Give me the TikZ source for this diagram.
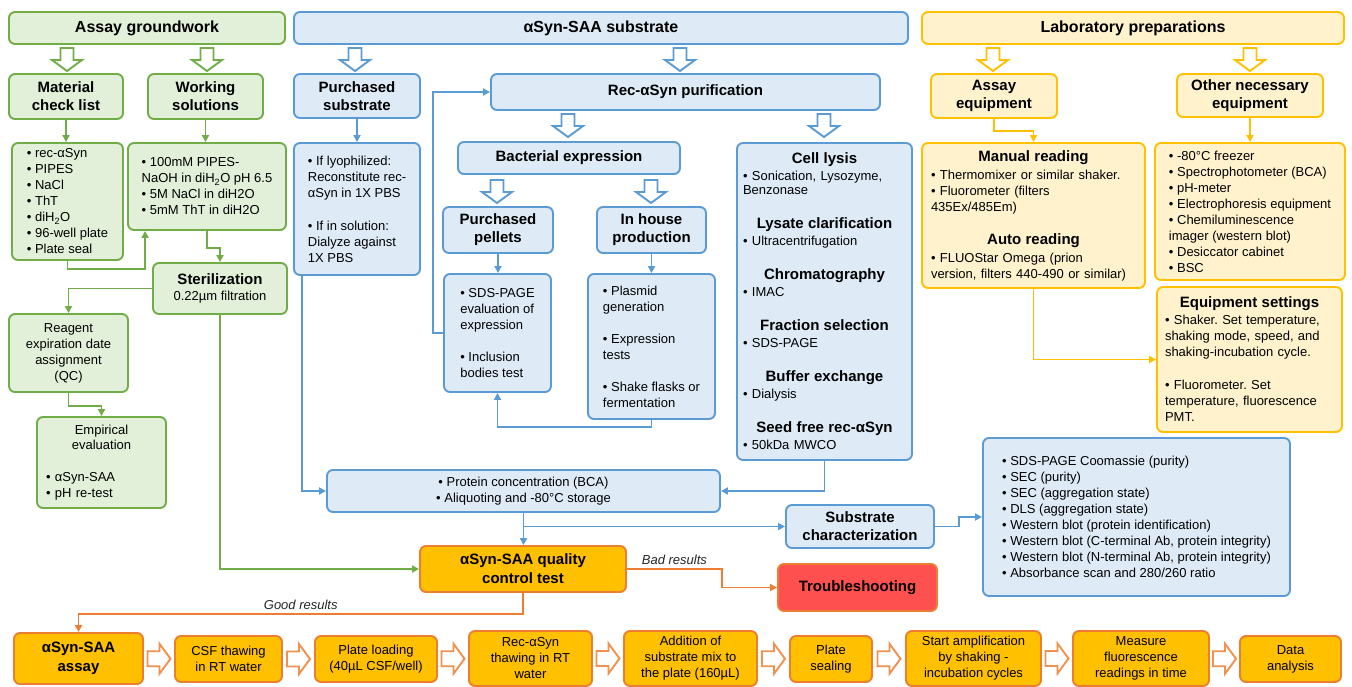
\documentclass[tikz,border=0pt]{standalone}
\usepackage{fontspec}
\setmainfont{Liberation Sans}
\usetikzlibrary{arrows.meta, calc, positioning}
\frenchspacing

\definecolor{GrLine}{HTML}{70AD47}
\definecolor{GrFill}{HTML}{E2F0D9}
\definecolor{BlLine}{HTML}{5B9BD5}
\definecolor{BlFill}{HTML}{DEEBF7}
\definecolor{YlLine}{HTML}{FFC000}
\definecolor{YlFill}{HTML}{FFF2CC}
\definecolor{OrLine}{HTML}{ED7D31}
\definecolor{OrFill}{HTML}{FFC000}
\definecolor{RdFill}{HTML}{FF5050}
\definecolor{PkFill}{HTML}{FBE5D6}
\definecolor{PkLine}{HTML}{F0914F}

\newcommand{\bodyf}{\fontsize{13}{16}\selectfont}
\newcommand{\headf}{\fontsize{15}{18}\selectfont\bfseries}
\newcommand{\topf}{\fontsize{16}{19}\selectfont\bfseries}
\newcommand{\centreline}[1]{\hfill{#1}\hfill\null}

\tikzset{
  basebox/.style={rectangle, rounded corners=6pt, line width=1.9pt,
    align=center, inner sep=4pt, font=\bodyf, text=black},
  grbox/.style={basebox, draw=GrLine, fill=GrFill},
  blbox/.style={basebox, draw=BlLine, fill=BlFill},
  ylbox/.style={basebox, draw=YlLine, fill=YlFill},
  orbox/.style={basebox, draw=OrLine, fill=OrFill},
  rdbox/.style={basebox, draw=OrLine, fill=RdFill},
  hd/.style={font=\headf},
  garr/.style={-{Triangle[length=7pt,width=7pt]}, line width=1.9pt, draw=GrLine},
  barr/.style={-{Triangle[length=7pt,width=7pt]}, line width=1.9pt, draw=BlLine},
  yarr/.style={-{Triangle[length=7pt,width=7pt]}, line width=1.9pt, draw=YlLine},
  oarr/.style={-{Triangle[length=7pt,width=7pt]}, line width=1.9pt, draw=OrLine},
  lbl/.style={font=\bodyf\itshape, text=black!85},
  downarr/.pic={\draw[line width=1.9pt, fill=white, pic actions]
    (-6.5,0) -- (6.5,0) -- (6.5,12) -- (15,12) -- (0,23) -- (-15,12) -- (-6.5,12) -- cycle;},
  rightarr/.pic={\draw[line width=1.9pt, fill=white, pic actions]
    (-11.5,-7.5) -- (0.5,-7.5) -- (0.5,-15) -- (11.5,0) -- (0.5,15) -- (0.5,7.5) -- (-11.5,7.5) -- cycle;},
}

\begin{document}
\begin{tikzpicture}[x=1pt, y=-1pt]
  \path[use as bounding box, fill=white] (0,0) rectangle (1352,686);

  % headers
  \node[grbox, font=\topf, minimum width=276pt, minimum height=32pt] (hdrG) at (147,28) {Assay groundwork};
  \node[blbox, font=\topf, minimum width=614pt, minimum height=32pt] (hdrB) at (601,28) {αSyn-SAA substrate};
  \node[ylbox, font=\topf, minimum width=422pt, minimum height=32pt] (hdrY) at (1133,28) {Laboratory preparations};

  \pic[draw=GrLine] at (67,48) {downarr};
  \pic[draw=GrLine] at (207,48) {downarr};
  \pic[draw=BlLine] at (355,48) {downarr};
  \pic[draw=BlLine] at (680,48) {downarr};
  \pic[draw=YlLine] at (993,48) {downarr};
  \pic[draw=YlLine] at (1250,48) {downarr};

  % assay groundwork
  \node[grbox, hd, minimum width=114pt, minimum height=45pt] (mat) at (66,96.5) {Material\\check list};
  \node[grbox, hd, minimum width=115pt, minimum height=45pt] (work) at (205.5,96.5) {Working\\solutions};
  \node[grbox, align=left, minimum width=111pt, minimum height=117pt] (matl) at (67.5,201.5)
    {• rec-αSyn\\• PIPES\\• NaCl\\• ThT\\• diH\textsubscript{2}O\\• 96-well plate\\• Plate seal};
  \node[grbox, align=left, minimum width=158pt, minimum height=87pt] (workl) at (207,186.5)
    {• 100mM PIPES-\\NaOH in diH\textsubscript{2}O pH 6.5\\• 5M NaCl in diH2O\\• 5mM ThT in diH2O};
  \node[grbox, minimum width=134pt, minimum height=51pt] (steril) at (220,288.5)
    {{\headf Sterilization}\\0.22µm filtration};
  \node[grbox, minimum width=119pt, minimum height=78pt] (reag) at (68.5,353)
    {Reagent\\expiration date\\assignment\\(QC)};
  \node[grbox, align=left, text width=111pt, inner xsep=9pt, minimum height=91pt] (emp) at (101.5,462.5)
    {\centreline{Empirical}\\[-1pt]\centreline{evaluation}\\[16pt]• αSyn-SAA\\• pH re-test};

  \draw[garr] (mat.south) -- (mat.south |- matl.north);
  \draw[garr] (work.south) -- (work.south |- workl.north);
  \draw[garr] (matl.south) -- ++(0,8) -| ([xshift=18pt]workl.south west);
  \draw[garr] (workl.south) -- ++(0,17) -| (steril.north);
  \draw[garr] (steril.west) -| (reag.north);
  \draw[garr] (reag.south) -- ++(0,13) -| (emp.north);

  % substrate
  \node[blbox, hd, minimum width=126pt, minimum height=44pt] (psub) at (357,96) {Purchased\\substrate};
  \node[blbox, align=left, minimum width=126pt, minimum height=132pt] (psubl) at (357,209)
    {• If lyophilized:\\Reconstitute rec-\\αSyn in 1X PBS\\[17pt]• If in solution:\\Dialyze against\\1X PBS};
  \node[blbox, hd, minimum width=389pt, minimum height=36pt] (rec) at (685.5,92) {Rec-αSyn purification};
  \pic[draw=BlLine] at (568,114) {downarr};
  \pic[draw=BlLine] at (824,114) {downarr};
  \node[blbox, hd, minimum width=222pt, minimum height=32pt] (bact) at (569,158) {Bacterial expression};
  \pic[draw=BlLine] at (497,180) {downarr};
  \pic[draw=BlLine] at (651,180) {downarr};
  \node[blbox, hd, minimum width=110pt, minimum height=46pt] (pell) at (498,230) {Purchased\\pellets};
  \node[blbox, hd, minimum width=109pt, minimum height=46pt] (inh) at (651.5,230) {In house\\production};
  \node[blbox, align=left, minimum width=107pt, minimum height=118pt] (pelll) at (497.5,333)
    {• SDS-PAGE\\evaluation of\\expression\\[16pt]• Inclusion\\bodies test};
  \node[blbox, align=left, minimum width=127pt, minimum height=145pt] (inhl) at (651.5,346.5)
    {• Plasmid\\generation\\[16pt]• Expression\\tests\\[16pt]• Shake flasks or\\fermentation};
  \node[blbox, align=left, text width=163pt, inner xsep=6pt, minimum height=317pt] (lysis) at (824.5,301.5)
    {\centreline{\headf Cell lysis}\\[1pt]
     • Sonication, Lysozyme,\\[-2pt]Benzonase\\[18pt]
     \centreline{\headf Lysate clarification}\\[1pt]
     • Ultracentrifugation\\[18pt]
     \centreline{\headf Chromatography}\\[1pt]
     • IMAC\\[18pt]
     \centreline{\headf Fraction selection}\\[1pt]
     • SDS-PAGE\\[18pt]
     \centreline{\headf Buffer exchange}\\[1pt]
     • Dialysis\\[18pt]
     \centreline{\headf Seed free rec-αSyn}\\[1pt]
     • 50kDa MWCO};
  \node[blbox, minimum width=393pt, minimum height=42pt] (prot) at (523.5,491)
    {• Protein concentration (BCA)\\• Aliquoting and -80°C storage};
  \node[blbox, hd, minimum width=148pt, minimum height=43pt] (subc) at (860,526.5) {Substrate\\characterization};
  \node[blbox, align=left, minimum width=307pt, minimum height=158pt] (charl) at (1136.5,517)
    {• SDS-PAGE Coomassie (purity)\\• SEC (purity)\\• SEC (aggregation state)\\• DLS (aggregation state)\\
     • Western blot (protein identification)\\• Western blot (C-terminal Ab, protein integrity)\\
     • Western blot (N-terminal Ab, protein integrity)\\• Absorbance scan and 280/260 ratio};

  \draw[barr] (psub.south) -- (psub.south |- psubl.north);
  \draw[barr] ([xshift=9pt]psubl.south west) |- (prot.west);
  \draw[barr] (pell.south) -- (pell.south |- pelll.north);
  \draw[barr] (inh.south) -- (inh.south |- inhl.north);
  \draw[barr] (inhl.south) -- ++(0,7) -| (pelll.south);
  \draw[barr] (pelll.west) -- ++(-10,0) |- (rec.west);
  \draw[barr] (lysis.south) |- (prot.east);
  \draw[barr] (prot.south |- subc.west) -- (subc.west);
  \draw[barr] (subc.east) -- ++(24,0) |- (charl.west);

  % laboratory preparations
  \node[ylbox, hd, minimum width=126pt, minimum height=44pt] (aeq) at (994,96) {Assay\\equipment};
  \node[ylbox, hd, minimum width=146pt, minimum height=43pt] (oeq) at (1250,95.5) {Other necessary\\equipment};
  \node[ylbox, align=left, text width=205pt, inner xsep=9pt, minimum height=145pt] (man) at (1033.5,215.5)
    {\centreline{\headf Manual reading}\\[2pt]
     • Thermomixer or similar shaker.\\• Fluorometer (filters\\435Ex/485Em)\\[17pt]
     \centreline{\headf Auto reading}\\[2pt]
     • FLUOStar Omega (prion\\version, filters 440-490 or similar)};
  \node[ylbox, align=left, minimum width=190pt, minimum height=137pt] (oeql) at (1250,211.5)
    {• -80°C freezer\\• Spectrophotometer (BCA)\\• pH-meter\\• Electrophoresis equipment\\
     • Chemiluminescence\\imager (western blot)\\• Desiccator cabinet\\• BSC};
  \node[ylbox, align=left, text width=169pt, inner xsep=8pt, minimum height=145pt] (eqs) at (1249.5,359.5)
    {\centreline{\headf Equipment settings}\\[1pt]
     • Shaker. Set temperature,\\shaking mode, speed, and\\shaking-incubation cycle.\\[17pt]
     • Fluorometer. Set\\temperature, fluorescence\\PMT.};

  \draw[yarr] (aeq.south) -- ++(0,12) -| (man.north);
  \draw[yarr] (oeq.south) -- (oeq.south |- oeql.north);
  \draw[yarr] (man.south) |- (eqs.west);

  % quality control
  \node[orbox, font=\fontsize{15}{19}\selectfont\bfseries, minimum width=206pt, minimum height=46pt] (qc) at (523,569)
    {αSyn-SAA quality\\control test};
  \node[rdbox, hd, minimum width=159pt, minimum height=47pt] (trb) at (857.5,587.5) {Troubleshooting};

  \draw[barr] (prot.south) -- (prot.south |- qc.north);
  \draw[garr] (steril.south) |- (qc.west);
  \draw[oarr] (qc.east) -- node[above, lbl] {Bad results} ++(95,0) |- (trb.west);

  % assay steps
  \node[orbox, font=\fontsize{15}{19}\selectfont\bfseries, minimum width=129pt, minimum height=51pt] (assay) at (78.5,658.5) {αSyn-SAA\\assay};
  \node[orbox, minimum width=107pt, minimum height=46pt] (csf) at (228.5,659) {CSF thawing\\in RT water};
  \node[orbox, minimum width=122pt, minimum height=46pt] (pload) at (376,659) {Plate loading\\(40µL CSF/well)};
  \node[orbox, minimum width=123pt, minimum height=55pt] (rect) at (530.5,658.5) {Rec-αSyn\\thawing in RT\\water};
  \node[orbox, minimum width=133pt, minimum height=55pt] (addn) at (690.5,658.5) {Addition of\\substrate mix to\\the plate (160µL)};
  \node[orbox, minimum width=82pt, minimum height=46pt] (seal) at (831,659) {Plate\\sealing};
  \node[orbox, minimum width=135pt, minimum height=55pt] (amp) at (973.5,658.5) {Start amplification\\by shaking -\\incubation cycles};
  \node[orbox, minimum width=136pt, minimum height=55pt] (meas) at (1141,658.5) {Measure\\fluorescence\\readings in time};
  \node[orbox, minimum width=101pt, minimum height=46pt] (data) at (1290.5,659) {Data\\analysis};

  \draw[oarr] (qc.south) -- ++(0,21) -| node[pos=0.25, above, lbl] {Good results} (assay.north);

  \pic[draw=PkLine, fill=PkFill] at ($(assay.east)!0.5!(csf.west)$) {rightarr};
  \pic[draw=PkLine, fill=PkFill] at ($(csf.east)!0.5!(pload.west)$) {rightarr};
  \pic[draw=PkLine, fill=PkFill] at ($(pload.east)!0.5!(rect.west)$) {rightarr};
  \pic[draw=PkLine, fill=PkFill] at ($(rect.east)!0.5!(addn.west)$) {rightarr};
  \pic[draw=PkLine, fill=PkFill] at ($(addn.east)!0.5!(seal.west)$) {rightarr};
  \pic[draw=PkLine, fill=PkFill] at ($(seal.east)!0.5!(amp.west)$) {rightarr};
  \pic[draw=PkLine, fill=PkFill] at ($(amp.east)!0.5!(meas.west)$) {rightarr};
  \pic[draw=PkLine, fill=PkFill] at ($(meas.east)!0.5!(data.west)$) {rightarr};
\end{tikzpicture}
\end{document}
